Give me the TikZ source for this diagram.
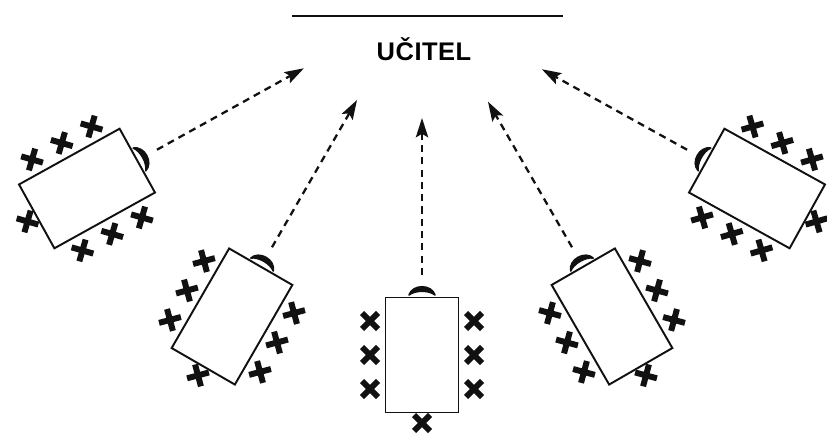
\documentclass[tikz,border=0pt]{standalone}
\usepackage{fontspec}
\usepackage{tikz}
\usetikzlibrary{arrows.meta}
\newfontfamily\pismoUcitel{Liberation Sans}[LetterSpace=2.0]
\definecolor{corCara}{RGB}{17, 17, 17}

\begin{document}
\begin{tikzpicture}[x=0.02cm, y=0.02cm,
    lavice/.style={draw=corCara, line width=1.1pt, fill=white},
    zak/.style={draw=corCara, line width=3.4pt},
    zidle/.style={fill=corCara, draw=corCara, line width=0.9pt, line join=round},
    pohled/.style={draw=corCara, line width=1.3pt, dash pattern=on 4pt off 3pt,
                   -{Stealth[length=11pt, width=7pt, inset=2pt]}}]

  \useasboundingbox (0,0) rectangle (827,437);

  %% ================================================================
  %%  UČITEL — čára a nápis nahoře
  %% ================================================================
  \draw[corCara, line width=0.9pt] (292,421) -- (563,421);
  \node[font=\pismoUcitel\fontsize{14.5}{17}\selectfont\bfseries, anchor=base]
        (ucitel) at (424,377) {UČITEL};

  %% ================================================================
  %%  LAVICE — pět stolů, u každého židle a sedm žáků
  %% ================================================================
  \foreach \jm/\x/\y/\uhel/\dosah in {1/87/248.5/-61/248, 2/232/120.5/-30/250,
                                      3/422/82/0/237, 4/612/120.5/30/248,
                                      5/757/248.5/61/246} {
    \begin{scope}[shift={(\x,\y)}, rotate=\uhel]
      % stůl
      \draw[lavice] (-36.5,-57.5) rectangle (36.5,57.5);
      % židle učitele (půlměsíc nad horní hranou)
      \filldraw[zidle] (-13,60) .. controls (-9.5,71) and (9.5,71) .. (13,60)
                       .. controls (7,65) and (-7,65) .. (-13,60) -- cycle;
      % žáci
      \foreach \a/\b in {-52/-34, -52/0, -52/34, 52/-34, 52/0, 52/34, 0/-68}
        \draw[zak, shift={(\a,\b)}] (-8,-8) -- (8,8) (-8,8) -- (8,-8);
      % začátek a konec šipky
      \coordinate (start\jm) at (0,80);
      \coordinate (cil\jm) at (0,\dosah);
    \end{scope}
  }

  %% ================================================================
  %%  ŠIPKY — pohled k učiteli
  %% ================================================================
  \foreach \jm in {1,...,5}
    \draw[pohled] (start\jm) -- (cil\jm);

\end{tikzpicture}
\end{document}
